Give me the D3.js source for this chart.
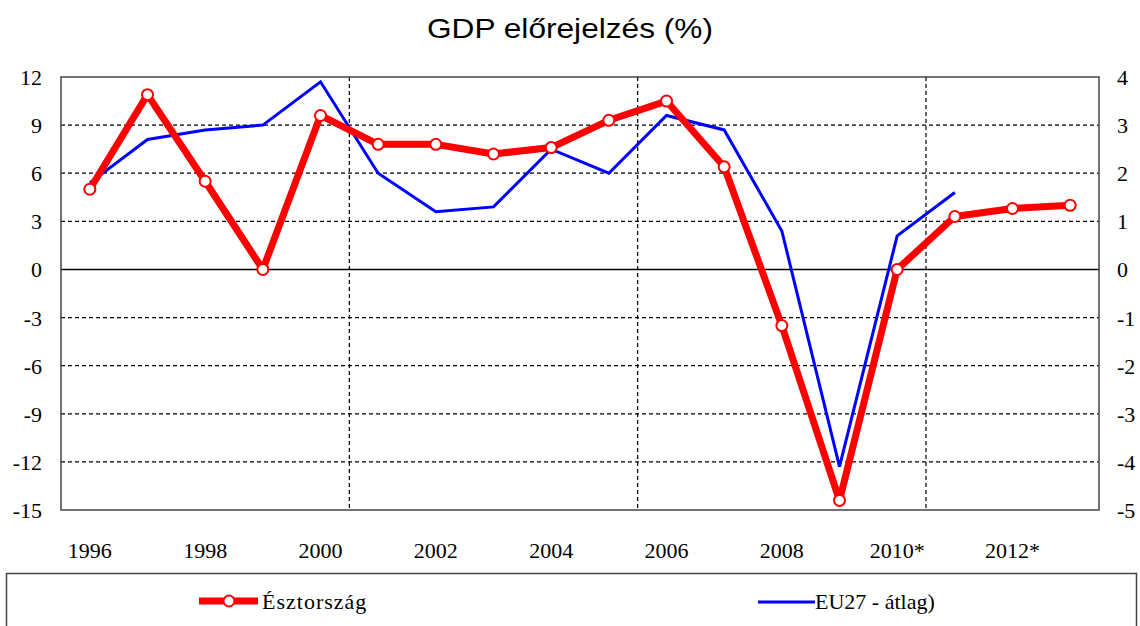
<!DOCTYPE html>
<html>
<head>
<meta charset="utf-8">
<script src="https://cdn.jsdelivr.net/npm/d3@7"></script>
<style>
  body { margin: 0; background: #fff; }
  svg { display: block; }
</style>
</head>
<body>
<script>
// years on the category axis
var years = ["1996","1997","1998","1999","2000","2001","2002","2003","2004",
             "2005","2006","2007","2008","2009","2010","2011","2012","2013"];
var yearLabels = ["1996","1998","2000","2002","2004","2006","2008","2010*","2012*"];
var labelYears = ["1996","1998","2000","2002","2004","2006","2008","2010","2012"];

// Észtország, left axis
var estonia = [5.0, 10.9, 5.5, 0.0, 9.6, 7.8, 7.8, 7.2, 7.6, 9.3, 10.5, 6.4, -3.5, -14.4, 0.0, 3.3, 3.8, 4.0];
// EU27 átlag, right axis
var eu27 = [1.8, 2.7, 2.9, 3.0, 3.9, 2.0, 1.2, 1.3, 2.5, 2.0, 3.2, 2.9, 0.8, -4.1, 0.7, 1.6, null, null];

var leftTicks = [12, 9, 6, 3, 0, -3, -6, -9, -12, -15];
var rightTicks = [4, 3, 2, 1, 0, -1, -2, -3, -4, -5];
var vGridAfter = ["2000", "2005", "2010"];

var w = 1140, h = 626;
// plot area (note: "top" is taken by window.top, so pTop etc.)
var pLeft = 61, pRight = 1099, pTop = 77, pBottom = 510;

var svg = d3.select("body").append("svg")
    .attr("width", w)
    .attr("height", h);

var x = d3.scaleBand().domain(years).range([pLeft, pRight]);
var yL = d3.scaleLinear().domain([-15, 12]).range([pBottom, pTop]);
var yR = d3.scaleLinear().domain([-5, 4]).range([pBottom, pTop]);
var cx = function(yr) { return x(yr) + x.bandwidth() / 2; };

// title
svg.append("text")
    .attr("x", 570).attr("y", 38)
    .attr("text-anchor", "middle")
    .attr("textLength", 286)
    .attr("lengthAdjust", "spacingAndGlyphs")
    .style("font-family", "Liberation Sans, Arial, sans-serif")
    .style("font-size", "27.5px")
    .text("GDP előrejelzés (%)");

// horizontal grid
svg.append("g").selectAll("line")
    .data(leftTicks.filter(function(d) { return d != 12 && d != -15 && d != 0; }))
    .enter().append("line")
    .attr("x1", pLeft).attr("x2", pRight)
    .attr("y1", function(d) { return yL(d); })
    .attr("y2", function(d) { return yL(d); })
    .attr("stroke", "#000")
    .attr("stroke-width", 1.2)
    .attr("stroke-dasharray", "4,3");

// vertical grid
svg.append("g").selectAll("line")
    .data(vGridAfter)
    .enter().append("line")
    .attr("x1", function(d) { return x(d) + x.bandwidth(); })
    .attr("x2", function(d) { return x(d) + x.bandwidth(); })
    .attr("y1", pTop).attr("y2", pBottom)
    .attr("stroke", "#000")
    .attr("stroke-width", 1.2)
    .attr("stroke-dasharray", "4,3");

// zero line
svg.append("line")
    .attr("x1", pLeft).attr("x2", pRight)
    .attr("y1", yL(0)).attr("y2", yL(0))
    .attr("stroke", "#000").attr("stroke-width", 1.5);

// frame
svg.append("rect")
    .attr("x", pLeft).attr("y", pTop)
    .attr("width", pRight - pLeft).attr("height", pBottom - pTop)
    .attr("fill", "none")
    .attr("stroke", "#444").attr("stroke-width", 1.5);

var serif = "Liberation Serif, Times New Roman, serif";

// left axis labels
svg.append("g").selectAll("text")
    .data(leftTicks)
    .enter().append("text")
    .attr("x", 42)
    .attr("y", function(d) { return yL(d) + 8; })
    .attr("text-anchor", "end")
    .style("font-family", serif).style("font-size", "22px")
    .text(function(d) { return d; });

// right axis labels
svg.append("g").selectAll("text")
    .data(rightTicks)
    .enter().append("text")
    .attr("x", 1117)
    .attr("y", function(d) { return yR(d) + 8; })
    .attr("text-anchor", "start")
    .style("font-family", serif).style("font-size", "22px")
    .text(function(d) { return d; });

// x labels
svg.append("g").selectAll("text")
    .data(yearLabels)
    .enter().append("text")
    .attr("x", function(d, i) { return cx(labelYears[i]); })
    .attr("y", 558)
    .attr("text-anchor", "middle")
    .style("font-family", serif).style("font-size", "22px")
    .text(function(d) { return d; });

// EU27 line
var lineR = d3.line()
    .defined(function(d) { return d != null; })
    .x(function(d, i) { return cx(years[i]); })
    .y(function(d) { return yR(d); });

svg.append("path")
    .datum(eu27)
    .attr("d", lineR)
    .attr("fill", "none")
    .attr("stroke", "#0000ff")
    .attr("stroke-width", 3);

// Estonia line
var lineL = d3.line()
    .x(function(d, i) { return cx(years[i]); })
    .y(function(d) { return yL(d); });

svg.append("path")
    .datum(estonia)
    .attr("d", lineL)
    .attr("fill", "none")
    .attr("stroke", "#ff0000")
    .attr("stroke-width", 7)
    .attr("stroke-linejoin", "round");

svg.append("g").selectAll("circle")
    .data(estonia)
    .enter().append("circle")
    .attr("cx", function(d, i) { return cx(years[i]); })
    .attr("cy", function(d) { return yL(d); })
    .attr("r", 5.5)
    .attr("fill", "#fff")
    .attr("stroke", "#ff0000")
    .attr("stroke-width", 2);

// legend box
svg.append("rect")
    .attr("x", 6.5).attr("y", 573.5)
    .attr("width", 1130).attr("height", 80)
    .attr("fill", "none")
    .attr("stroke", "#444").attr("stroke-width", 1.5);

var leg = svg.append("g");
leg.append("line")
    .attr("x1", 199).attr("x2", 258).attr("y1", 601).attr("y2", 601)
    .attr("stroke", "#ff0000").attr("stroke-width", 7);
leg.append("circle")
    .attr("cx", 229).attr("cy", 601).attr("r", 5.5)
    .attr("fill", "#fff").attr("stroke", "#ff0000").attr("stroke-width", 2);
leg.append("text")
    .attr("x", 262).attr("y", 609)
    .style("font-family", serif).style("font-size", "22px")
    .style("letter-spacing", "1px")
    .text("Észtország");

leg.append("line")
    .attr("x1", 758).attr("x2", 815).attr("y1", 602).attr("y2", 602)
    .attr("stroke", "#0000ff").attr("stroke-width", 3);
leg.append("text")
    .attr("x", 815).attr("y", 609)
    .style("font-family", serif).style("font-size", "22px")
    .text("EU27 - átlag)");
</script>
</body>
</html>
